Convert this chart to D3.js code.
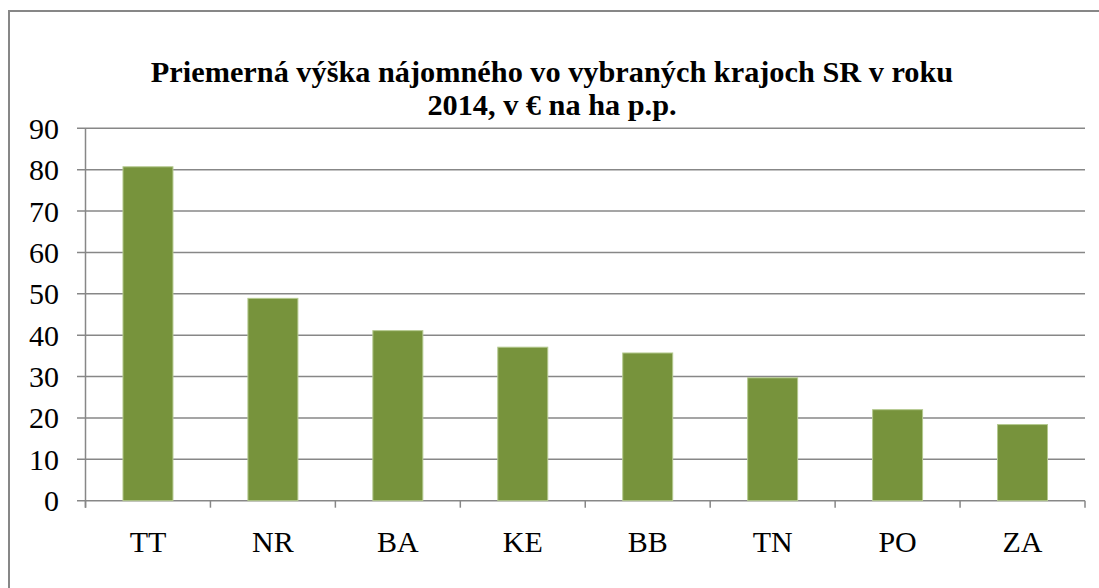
<!DOCTYPE html>
<html>
<head>
<meta charset="utf-8">
<script src="https://cdn.jsdelivr.net/npm/d3@7"></script>
<style>
  body { margin: 0; background: #fff; }
</style>
</head>
<body>
<div id="chart"></div>
<script>
// data
const regions = ['TT', 'NR', 'BA', 'KE', 'BB', 'TN', 'PO', 'ZA']
const rent = [80.7, 48.9, 41.1, 37.1, 35.7, 29.7, 22.0, 18.4]
const yTicks = [0, 10, 20, 30, 40, 50, 60, 70, 80, 90]
const titleLines = ['Priemerná výška nájomného vo vybraných krajoch SR v roku', '2014, v € na ha p.p.']

const width = 1099
const height = 588
const plot = { left: 85.5, right: 1085, top: 128.3, bottom: 500.7 }
const serif = '"Liberation Serif"'

const svg = d3.select('#chart')
  .append('svg')
  .attr('width', width)
  .attr('height', height)

// outer chart frame, runs off the right and bottom edge
svg.append('rect')
  .attr('x', 9)
  .attr('y', 11)
  .attr('width', 1200)
  .attr('height', 700)
  .attr('fill', 'none')
  .attr('stroke', '#878787')
  .attr('stroke-width', 2)

const x = d3.scaleBand()
  .domain(regions)
  .range([plot.left, plot.right])
  .paddingInner(0.6)
  .paddingOuter(0.3)

const xCat = d3.scaleBand()
  .domain(regions)
  .range([plot.left, plot.right])

const y = d3.scaleLinear()
  .domain([0, 90])
  .range([plot.bottom, plot.top])

// gridlines
svg.append('g')
  .selectAll('line')
  .data(yTicks)
  .join('line')
  .attr('x1', plot.left - 8.5)
  .attr('x2', plot.right)
  .attr('y1', d => y(d))
  .attr('y2', d => y(d))
  .attr('stroke', '#878787')
  .attr('stroke-width', 1.5)

// y axis line
svg.append('line')
  .attr('x1', plot.left).attr('x2', plot.left)
  .attr('y1', plot.top).attr('y2', plot.bottom + 7)
  .attr('stroke', '#878787')
  .attr('stroke-width', 1.5)

// x axis ticks at category boundaries
const boundaries = regions.map(r => xCat(r)).concat([plot.right])
svg.append('g')
  .selectAll('line')
  .data(boundaries)
  .join('line')
  .attr('x1', d => d).attr('x2', d => d)
  .attr('y1', plot.bottom)
  .attr('y2', plot.bottom + 7)
  .attr('stroke', '#878787')
  .attr('stroke-width', 1.5)

// bars
svg.append('g')
  .selectAll('rect')
  .data(rent)
  .join('rect')
  .attr('x', (d, i) => x(regions[i]))
  .attr('y', d => y(d))
  .attr('width', x.bandwidth())
  .attr('height', d => y(0) - y(d))
  .attr('fill', '#77933c')
  .attr('stroke', '#b4c98f')
  .attr('stroke-width', 1)

// y tick labels
svg.append('g')
  .selectAll('text')
  .data(yTicks)
  .join('text')
  .attr('x', 59)
  .attr('y', d => y(d))
  .attr('dy', '0.35em')
  .attr('text-anchor', 'end')
  .style('font-family', serif)
  .attr('font-size', 30)
  .text(d => d)

// x labels
svg.append('g')
  .selectAll('text')
  .data(regions)
  .join('text')
  .attr('x', d => xCat(d) + xCat.bandwidth() / 2)
  .attr('y', 552)
  .attr('text-anchor', 'middle')
  .style('font-family', serif)
  .attr('font-size', 30)
  .text(d => d)

// title
const title = svg.append('text')
  .attr('text-anchor', 'middle')
  .style('font-family', serif)
  .attr('font-size', 30.3)
  .attr('font-weight', 'bold')
titleLines.forEach((line, i) => {
  title.append('tspan')
    .attr('x', 552)
    .attr('y', 82 + i * 33)
    .text(line)
})
</script>
</body>
</html>
